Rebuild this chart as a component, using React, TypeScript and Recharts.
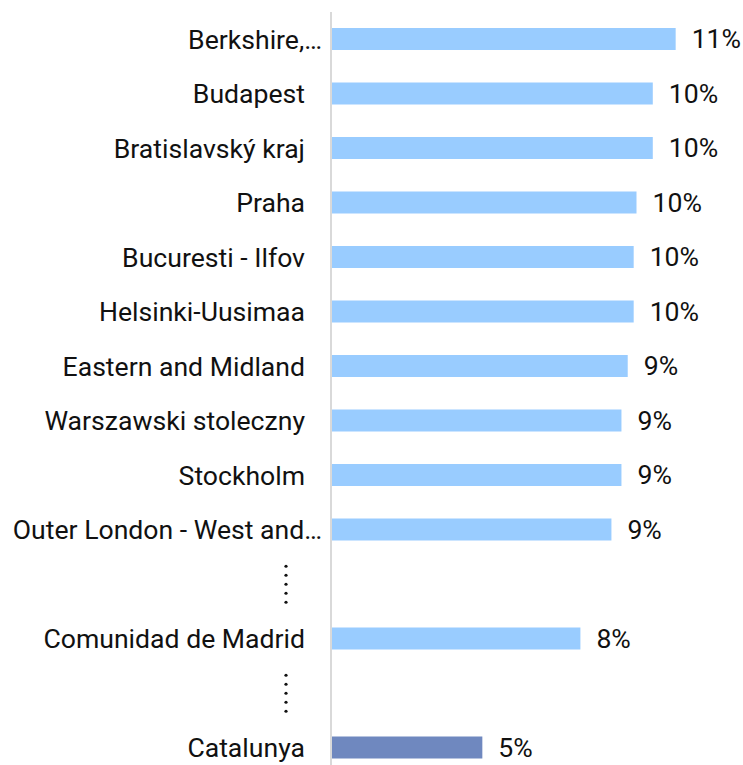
import { BarChart, Bar, XAxis, YAxis, Cell, LabelList } from "recharts";

// region labels as shown (long names are cut in the original)
const regions = [
  "Berkshire,…",
  "Budapest",
  "Bratislavský kraj",
  "Praha",
  "Bucuresti - Ilfov",
  "Helsinki-Uusimaa",
  "Eastern and Midland",
  "Warszawski stoleczny",
  "Stockholm",
  "Outer London - West and…",
  "gap-1",
  "Comunidad de Madrid",
  "gap-2",
  "Catalunya",
];

// share in percent, null = skipped rows
const shares: (number | null)[] = [
  11.0, 10.27, 10.27, 9.75, 9.66, 9.66, 9.47, 9.27, 9.27, 8.95, null, 7.96, null, 4.83,
];

const highlighted = ["Catalunya"];

const data = regions.map((region, i) => ({ region, share: shares[i] }));

const FONT = "Roboto, 'Noto Sans', sans-serif";
const FS = 26.6;

function RegionTick({ x, y, payload }: any) {
  const label: string = payload.value;
  if (label.startsWith("gap")) {
    return (
      <g>
        {[-2, -1, 0, 1, 2].map((k) => (
          <circle key={k} cx={x - 37} cy={y + k * 9} r={1.6} fill="#111" />
        ))}
      </g>
    );
  }
  const cut = label.endsWith("…");
  return (
    <text
      x={cut ? x - 1 : x - 18}
      y={y}
      dy="0.355em"
      textAnchor="end"
      fontSize={FS}
      fontFamily={FONT}
      fill="#111"
    >
      {label}
    </text>
  );
}

export default function App() {
  return (
    <div style={{ position: "fixed", left: 0, top: 0, width: 743, height: 765, overflow: "hidden", background: "#fff" }}>
      <BarChart
        width={743}
        height={775}
        data={data}
        layout="vertical"
        margin={{ top: 12, right: 36, left: 0, bottom: 0 }}
        barSize={22}
      >
        <XAxis type="number" domain={[0, 12]} hide />
        <YAxis
          type="category"
          dataKey="region"
          width={331}
          axisLine={{ stroke: "#d9d9d9", strokeWidth: 2 }}
          tickLine={false}
          tick={<RegionTick />}
          interval={0}
        />
        <Bar dataKey="share" isAnimationActive={false}>
          {data.map((d) => (
            <Cell key={d.region} fill={highlighted.includes(d.region) ? "#6f88bf" : "#99ccff"} />
          ))}
          <LabelList
            dataKey="share"
            position="right"
            offset={16}
            formatter={(v: any) => (v == null ? "" : `${Math.round(v)}%`)}
            style={{ fontSize: FS, fontFamily: FONT, fill: "#111" }}
          />
        </Bar>
      </BarChart>
    </div>
  );
}
